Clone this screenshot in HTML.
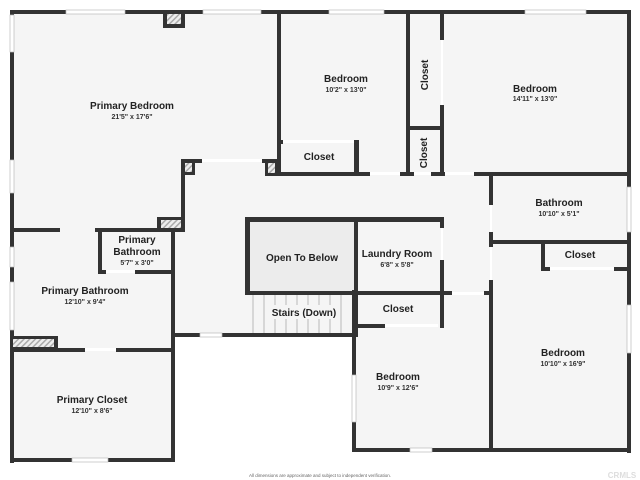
<!DOCTYPE html>
<html><head><meta charset="utf-8"><style>
html,body{margin:0;padding:0;background:#fff;width:640px;height:480px;overflow:hidden}
svg{display:block}
text{font-family:"Liberation Sans",sans-serif;fill:#222;text-anchor:middle}
.t{font-size:10px;font-weight:bold}
.d{font-size:7px;font-weight:bold;fill:#333}
</style></head><body>
<svg width="640" height="480" viewBox="0 0 640 480" xmlns="http://www.w3.org/2000/svg">
<defs>
<pattern id="h" width="4" height="4" patternUnits="userSpaceOnUse" patternTransform="rotate(45)">
<rect width="4" height="4" fill="#eee"/><rect width="1.5" height="4" fill="#aaa"/></pattern>
</defs>
<!-- floor fill -->
<g fill="#f5f5f5">
<rect x="12" y="12" width="617" height="164"/>
<rect x="12" y="176" width="163" height="286"/>
<rect x="175" y="176" width="454" height="160"/>
<rect x="354" y="300" width="275" height="151"/>
</g>
<rect x="248" y="220" width="108" height="73" fill="#ececec"/>
<g fill="#333">
<!-- outer -->
<rect x="10" y="10" width="621" height="4"/>
<rect x="10" y="10" width="4" height="453"/>
<rect x="627" y="10" width="4" height="443"/>
<rect x="10" y="458" width="165" height="4"/>
<rect x="352" y="448" width="279" height="4"/>
<!-- chimney -->
<rect x="163" y="10" width="22" height="18"/>
<!-- primary bedroom right -->
<rect x="277" y="10" width="4" height="166"/>
<!-- corridor top pieces -->
<rect x="181" y="159" width="21" height="4"/>
<rect x="181" y="159" width="4" height="73"/>
<rect x="181" y="159" width="14" height="16"/>
<rect x="262" y="159" width="17" height="4"/>
<rect x="265" y="159" width="14" height="17"/>
<rect x="157" y="217" width="28" height="15"/>
<!-- primary bedroom bottom -->
<rect x="10" y="228" width="50" height="4"/>
<rect x="95" y="228" width="90" height="4"/>
<!-- small bath -->
<rect x="98" y="228" width="4" height="46"/>
<rect x="98" y="270" width="8" height="4"/>
<rect x="135" y="270" width="40" height="4"/>
<rect x="171" y="228" width="4" height="234"/>
<!-- primary bath bottom -->
<rect x="10" y="348" width="75" height="4"/>
<rect x="116" y="348" width="59" height="4"/>
<rect x="10" y="336" width="48" height="14"/>
<!-- corridor top wall -->
<rect x="265" y="172" width="105" height="4"/>
<rect x="400" y="172" width="14" height="4"/>
<rect x="431" y="172" width="14" height="4"/>
<rect x="474" y="172" width="157" height="4"/>
<!-- bedroom closet -->
<rect x="354" y="140" width="5" height="36"/>
<rect x="279" y="140" width="4" height="4"/>
<!-- closets column -->
<rect x="406" y="10" width="4" height="166"/>
<rect x="440" y="10" width="4" height="30"/>
<rect x="440" y="105" width="4" height="71"/>
<rect x="406" y="126" width="38" height="4"/>
<!-- bathroom -->
<rect x="489" y="176" width="4" height="29"/>
<rect x="489" y="232" width="4" height="15"/>
<rect x="489" y="280" width="4" height="172"/>
<rect x="489" y="240" width="142" height="4"/>
<rect x="541" y="240" width="4" height="31"/>
<rect x="541" y="267" width="9" height="4"/>
<rect x="614" y="267" width="17" height="4"/>
<!-- open to below / laundry -->
<rect x="245" y="217" width="199" height="5"/>
<rect x="245" y="217" width="5" height="78"/>
<rect x="354" y="217" width="4" height="120"/>
<rect x="440" y="217" width="4" height="11"/>
<rect x="440" y="260" width="4" height="68"/>
<rect x="245" y="291" width="207" height="4"/>
<rect x="484" y="291" width="9" height="4"/>
<rect x="354" y="324" width="31" height="4"/>
<!-- stair bottom wall -->
<rect x="171" y="333" width="187" height="4"/>
<!-- lower bedroom left -->
<rect x="352" y="290" width="4" height="162"/>
</g>
<!-- hatches -->
<g fill="url(#h)">
<rect x="167" y="14" width="14" height="10"/>
<rect x="185" y="163" width="7" height="9"/>
<rect x="268" y="163" width="7" height="10"/>
<rect x="161" y="220" width="20" height="8"/>
<rect x="13" y="339" width="41" height="8"/>
</g>
<!-- windows / doors (light) -->
<g fill="#fff" stroke="#bbb" stroke-width="0.7">
<rect x="66" y="10" width="59" height="4"/>
<rect x="203" y="10" width="58" height="4"/>
<rect x="329" y="10" width="55" height="4"/>
<rect x="525" y="10" width="61" height="4"/>
<rect x="10" y="15" width="4" height="37"/>
<rect x="10" y="160" width="4" height="33"/>
<rect x="10" y="247" width="4" height="20"/>
<rect x="10" y="282" width="4" height="48"/>
<rect x="627" y="187" width="4" height="45"/>
<rect x="627" y="305" width="4" height="48"/>
<rect x="72" y="458" width="36" height="4"/>
<rect x="410" y="448" width="22" height="4"/>
<rect x="352" y="375" width="4" height="47"/>
<rect x="200" y="333" width="22" height="4"/>
</g>
<g fill="#fff">
<rect x="202" y="159" width="60" height="3"/>
<rect x="283" y="140" width="71" height="3"/>
<rect x="370" y="172" width="30" height="3"/>
<rect x="414" y="172" width="17" height="3"/>
<rect x="445" y="172" width="29" height="3"/>
<rect x="441" y="40" width="2" height="65"/>
<rect x="490" y="205" width="2" height="27"/>
<rect x="490" y="247" width="2" height="33"/>
<rect x="550" y="267" width="64" height="3"/>
<rect x="441" y="228" width="2" height="32"/>
<rect x="452" y="292" width="32" height="3"/>
<rect x="385" y="324" width="53" height="3"/>
<rect x="106" y="270" width="29" height="3"/>
<rect x="85" y="348" width="31" height="3"/>
</g>
<!-- stairs -->
<g stroke="#aaa" stroke-width="0.8">
<line x1="253" y1="295" x2="253" y2="333"/><line x1="264" y1="295" x2="264" y2="333"/>
<line x1="275" y1="295" x2="275" y2="333"/><line x1="286" y1="295" x2="286" y2="333"/>
<line x1="297" y1="295" x2="297" y2="333"/><line x1="308" y1="295" x2="308" y2="333"/>
<line x1="319" y1="295" x2="319" y2="333"/><line x1="330" y1="295" x2="330" y2="333"/>
<line x1="341" y1="295" x2="341" y2="333"/>
</g>
<rect x="270" y="305" width="68" height="14" fill="#f5f5f5"/>
<!-- labels -->
<text class="t" x="132" y="109">Primary Bedroom</text><text class="d" x="132" y="119">21'5" x 17'6"</text>
<text class="t" x="346" y="82">Bedroom</text><text class="d" x="346" y="92">10'2" x 13'0"</text>
<text class="t" x="319" y="160">Closet</text>
<text class="t" transform="translate(428,75) rotate(-90)">Closet</text>
<text class="t" transform="translate(427,153) rotate(-90)">Closet</text>
<text class="t" x="535" y="92">Bedroom</text><text class="d" x="535" y="101">14'11" x 13'0"</text>
<text class="t" x="559" y="206">Bathroom</text><text class="d" x="559" y="216">10'10" x 5'1"</text>
<text class="t" x="137" y="243">Primary</text><text class="t" x="137" y="255">Bathroom</text><text class="d" x="137" y="265">5'7" x 3'0"</text>
<text class="t" x="302" y="261">Open To Below</text>
<text class="t" x="397" y="257">Laundry Room</text><text class="d" x="397" y="267">6'8" x 5'8"</text>
<text class="t" x="304" y="316">Stairs (Down)</text>
<text class="t" x="398" y="312">Closet</text>
<text class="t" x="580" y="258">Closet</text>
<text class="t" x="85" y="294">Primary Bathroom</text><text class="d" x="85" y="304">12'10" x 9'4"</text>
<text class="t" x="92" y="403">Primary Closet</text><text class="d" x="92" y="413">12'10" x 8'6"</text>
<text class="t" x="398" y="380">Bedroom</text><text class="d" x="398" y="390">10'9" x 12'6"</text>
<text class="t" x="563" y="356">Bedroom</text><text class="d" x="563" y="366">10'10" x 16'9"</text>
<text x="320" y="477" style="font-size:4.5px;fill:#666">All dimensions are approximate and subject to independent verification.</text>
<text x="622" y="478" style="font-size:8px;fill:#ddd;font-weight:bold">CRMLS</text>
</svg>
</body></html>
